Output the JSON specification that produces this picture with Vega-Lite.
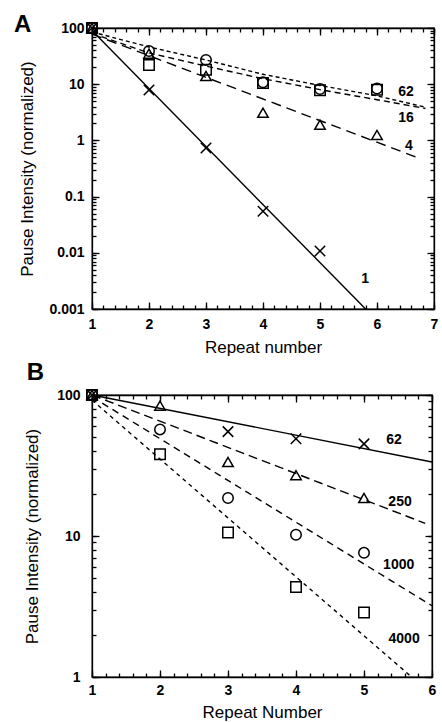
{
  "$schema": "https://vega.github.io/schema/vega-lite/v6.json",
  "padding": {"left": 13, "top": 12, "right": 5, "bottom": 2},
  "spacing": 4,
  "resolve": {"scale": {"shape": "independent", "strokeDash": "independent"}},
  "datasets": {
    "ptsA": [
      {"series": "1", "x": 1, "y": 100}, {"series": "1", "x": 2, "y": 7.9}, {"series": "1", "x": 3, "y": 0.73}, {"series": "1", "x": 4, "y": 0.055}, {"series": "1", "x": 5, "y": 0.0108},
      {"series": "4", "x": 1, "y": 100}, {"series": "4", "x": 2, "y": 35}, {"series": "4", "x": 3, "y": 14}, {"series": "4", "x": 4, "y": 3.1}, {"series": "4", "x": 5, "y": 1.9}, {"series": "4", "x": 6, "y": 1.25},
      {"series": "16", "x": 1, "y": 100}, {"series": "16", "x": 2, "y": 22}, {"series": "16", "x": 3, "y": 18}, {"series": "16", "x": 4, "y": 10.5}, {"series": "16", "x": 5, "y": 7.8}, {"series": "16", "x": 6, "y": 8.0},
      {"series": "62", "x": 1, "y": 100}, {"series": "62", "x": 2, "y": 39}, {"series": "62", "x": 3, "y": 27}, {"series": "62", "x": 4, "y": 10.8}, {"series": "62", "x": 5, "y": 8.2}, {"series": "62", "x": 6, "y": 8.4}
    ],
    "linesA": [
      {"series": "1", "x": 1, "y": 90}, {"series": "1", "x": 5.8, "y": 0.001},
      {"series": "4", "x": 1, "y": 78}, {"series": "4", "x": 6.72, "y": 0.49},
      {"series": "16", "x": 1, "y": 80}, {"series": "16", "x": 2, "y": 36}, {"series": "16", "x": 3, "y": 21}, {"series": "16", "x": 4, "y": 12.5}, {"series": "16", "x": 5, "y": 8}, {"series": "16", "x": 6, "y": 5.3}, {"series": "16", "x": 6.85, "y": 3.7},
      {"series": "62", "x": 1, "y": 85}, {"series": "62", "x": 2, "y": 46}, {"series": "62", "x": 3, "y": 27}, {"series": "62", "x": 4, "y": 15}, {"series": "62", "x": 5, "y": 9.5}, {"series": "62", "x": 6, "y": 6.2}, {"series": "62", "x": 6.85, "y": 3.9}
    ],
    "labA": [
      {"label": "62", "x": 6.51, "y": 7.3}, {"label": "16", "x": 6.51, "y": 2.5}, {"label": "4", "x": 6.56, "y": 0.8}, {"label": "1", "x": 5.79, "y": 0.0034}
    ],
    "ptsB": [
      {"series": "62", "x": 1, "y": 100}, {"series": "62", "x": 3, "y": 55}, {"series": "62", "x": 4, "y": 49}, {"series": "62", "x": 5, "y": 45},
      {"series": "250", "x": 1, "y": 100}, {"series": "250", "x": 2, "y": 84}, {"series": "250", "x": 3, "y": 33.5}, {"series": "250", "x": 4, "y": 27}, {"series": "250", "x": 5, "y": 18.6},
      {"series": "1000", "x": 1, "y": 100}, {"series": "1000", "x": 2, "y": 57}, {"series": "1000", "x": 3, "y": 18.6}, {"series": "1000", "x": 4, "y": 10.2}, {"series": "1000", "x": 5, "y": 7.6},
      {"series": "4000", "x": 1, "y": 100}, {"series": "4000", "x": 2, "y": 38}, {"series": "4000", "x": 3, "y": 10.6}, {"series": "4000", "x": 4, "y": 4.35}, {"series": "4000", "x": 5, "y": 2.87}
    ],
    "linesB": [
      {"series": "62", "x": 1, "y": 100}, {"series": "62", "x": 6, "y": 33.5},
      {"series": "250", "x": 1, "y": 100}, {"series": "250", "x": 5.9, "y": 12.3},
      {"series": "1000", "x": 1, "y": 97}, {"series": "1000", "x": 6, "y": 3.2},
      {"series": "4000", "x": 1, "y": 92}, {"series": "4000", "x": 5.7, "y": 1}
    ],
    "labB": [
      {"label": "62", "x": 5.44, "y": 48}, {"label": "250", "x": 5.53, "y": 17.4}, {"label": "1000", "x": 5.51, "y": 6.2}, {"label": "4000", "x": 5.59, "y": 1.86}
    ]
  },
  "config": {
    "view": {"stroke": "black", "strokeWidth": 1.3},
    "axis": {
      "domainColor": "black", "domainWidth": 1.3, "tickColor": "black", "labelColor": "black", "titleColor": "black",
      "labelFont": "Liberation Sans", "titleFont": "Liberation Sans",
      "labelFontWeight": "bold", "labelFontSize": 14, "titleFontSize": 17, "titleFontWeight": "normal",
      "grid": false, "ticks": true, "tickWidth": 1.3, "labelFlush": false, "labelOverlap": false, "zindex": 1
    }
  },
  "vconcat": [
    {
      "title": {"text": "A", "anchor": "start", "frame": "bounds", "fontSize": 24, "fontWeight": "bold", "font": "Liberation Sans", "color": "black", "offset": -17, "dx": -5},
      "width": 342,
      "height": 281,
      "resolve": {"axis": {"x": "independent", "y": "independent"}},
      "layer": [
        {
          "data": {"name": "linesA"},
          "transform": [{"filter": "datum.series == '1'"}],
          "mark": {"type": "line", "color": "black", "strokeWidth": 1.4},
          "encoding": {
            "x": {"field": "x", "type": "quantitative", "scale": {"domain": [1, 7], "nice": false, "zero": false},
              "axis": {"orient": "bottom", "values": [1, 2, 3, 4, 5, 6, 7], "tickSize": -7, "labelPadding": 15, "title": "Repeat number", "titlePadding": 8}},
            "y": {"field": "y", "type": "quantitative", "scale": {"type": "log", "domain": [0.001, 100], "nice": false},
              "axis": {"orient": "left", "values": [0.001, 0.01, 0.1, 1, 10, 100], "tickSize": -7, "labelPadding": 15, "format": "~g", "title": "Pause Intensity (normalized)", "titlePadding": 12}}
          }
        },
        {
          "data": {"name": "linesA"},
          "transform": [{"filter": "datum.series != '1'"}],
          "mark": {"type": "line", "color": "black", "strokeWidth": 1.4},
          "encoding": {
            "x": {"field": "x", "type": "quantitative",
              "axis": {"orient": "top", "tickCount": 30, "tickSize": -4, "labels": false, "domain": false, "title": null}},
            "y": {"field": "y", "type": "quantitative",
              "axis": {"orient": "right", "tickCount": 10, "tickSize": -4, "labels": false, "domain": false, "title": null}},
            "detail": {"field": "series", "type": "nominal"},
            "strokeDash": {"field": "series", "type": "nominal", "scale": {"domain": ["4", "16", "62"], "range": [[10, 6], [6, 4], [4, 3]]}, "legend": null}
          }
        },
        {
          "data": {"name": "ptsA"},
          "mark": {"type": "point", "filled": false, "color": "black", "strokeWidth": 1.5, "size": 110, "opacity": 1},
          "encoding": {
            "x": {"field": "x", "type": "quantitative",
              "axis": {"orient": "bottom", "tickCount": 30, "tickSize": -4, "labels": false, "domain": false, "title": null}},
            "y": {"field": "y", "type": "quantitative",
              "axis": {"orient": "left", "tickCount": 10, "tickSize": -4, "labels": false, "domain": false, "title": null}},
            "shape": {"field": "series", "type": "nominal", "scale": {"domain": ["1", "4", "16", "62"], "range": ["M-1,-1L1,1M1,-1L-1,1", "triangle-up", "square", "circle"]}, "legend": null}
          }
        },
        {
          "data": {"name": "labA"},
          "mark": {"type": "text", "font": "Liberation Sans", "fontWeight": "bold", "fontSize": 14, "color": "black"},
          "encoding": {
            "x": {"field": "x", "type": "quantitative",
              "axis": {"orient": "top", "tickCount": 6, "tickSize": -7, "labels": false, "title": null}},
            "y": {"field": "y", "type": "quantitative",
              "axis": {"orient": "right", "tickCount": 5, "tickSize": -7, "labels": false, "title": null}},
            "text": {"field": "label", "type": "nominal"}
          }
        }
      ]
    },
    {
      "title": {"text": "B", "anchor": "start", "frame": "bounds", "fontSize": 24, "fontWeight": "bold", "font": "Liberation Sans", "color": "black", "offset": 2, "dx": 3},
      "width": 340,
      "height": 282,
      "resolve": {"axis": {"x": "independent", "y": "independent"}},
      "layer": [
        {
          "data": {"name": "linesB"},
          "transform": [{"filter": "datum.series == '62'"}],
          "mark": {"type": "line", "color": "black", "strokeWidth": 1.4},
          "encoding": {
            "x": {"field": "x", "type": "quantitative", "scale": {"domain": [1, 6], "nice": false, "zero": false},
              "axis": {"orient": "bottom", "values": [1, 2, 3, 4, 5, 6], "tickSize": -7, "labelPadding": 13, "title": "Repeat Number", "titlePadding": 7}},
            "y": {"field": "y", "type": "quantitative", "scale": {"type": "log", "domain": [1, 100], "nice": false},
              "axis": {"orient": "left", "values": [1, 10, 100], "tickSize": -7, "labelPadding": 19, "format": "~g", "title": "Pause Intensity (normalized)", "titlePadding": 15}}
          }
        },
        {
          "data": {"name": "linesB"},
          "transform": [{"filter": "datum.series != '62'"}],
          "mark": {"type": "line", "color": "black", "strokeWidth": 1.4},
          "encoding": {
            "x": {"field": "x", "type": "quantitative",
              "axis": {"orient": "top", "tickCount": 25, "tickSize": -4, "labels": false, "domain": false, "title": null}},
            "y": {"field": "y", "type": "quantitative",
              "axis": {"orient": "right", "tickCount": 10, "tickSize": -4, "labels": false, "domain": false, "title": null}},
            "detail": {"field": "series", "type": "nominal"},
            "strokeDash": {"field": "series", "type": "nominal", "scale": {"domain": ["250", "1000", "4000"], "range": [[9, 5], [7, 5], [4, 4]]}, "legend": null}
          }
        },
        {
          "data": {"name": "ptsB"},
          "mark": {"type": "point", "filled": false, "color": "black", "strokeWidth": 1.5, "size": 110, "opacity": 1},
          "encoding": {
            "x": {"field": "x", "type": "quantitative",
              "axis": {"orient": "bottom", "tickCount": 25, "tickSize": -4, "labels": false, "domain": false, "title": null}},
            "y": {"field": "y", "type": "quantitative",
              "axis": {"orient": "left", "tickCount": 10, "tickSize": -4, "labels": false, "domain": false, "title": null}},
            "shape": {"field": "series", "type": "nominal", "scale": {"domain": ["62", "250", "1000", "4000"], "range": ["M-1,-1L1,1M1,-1L-1,1", "triangle-up", "circle", "square"]}, "legend": null}
          }
        },
        {
          "data": {"name": "labB"},
          "mark": {"type": "text", "font": "Liberation Sans", "fontWeight": "bold", "fontSize": 14, "color": "black"},
          "encoding": {
            "x": {"field": "x", "type": "quantitative",
              "axis": {"orient": "top", "tickCount": 5, "tickSize": -7, "labels": false, "title": null}},
            "y": {"field": "y", "type": "quantitative",
              "axis": {"orient": "right", "tickCount": 2, "tickSize": -7, "labels": false, "title": null}},
            "text": {"field": "label", "type": "nominal"}
          }
        }
      ]
    }
  ]
}
